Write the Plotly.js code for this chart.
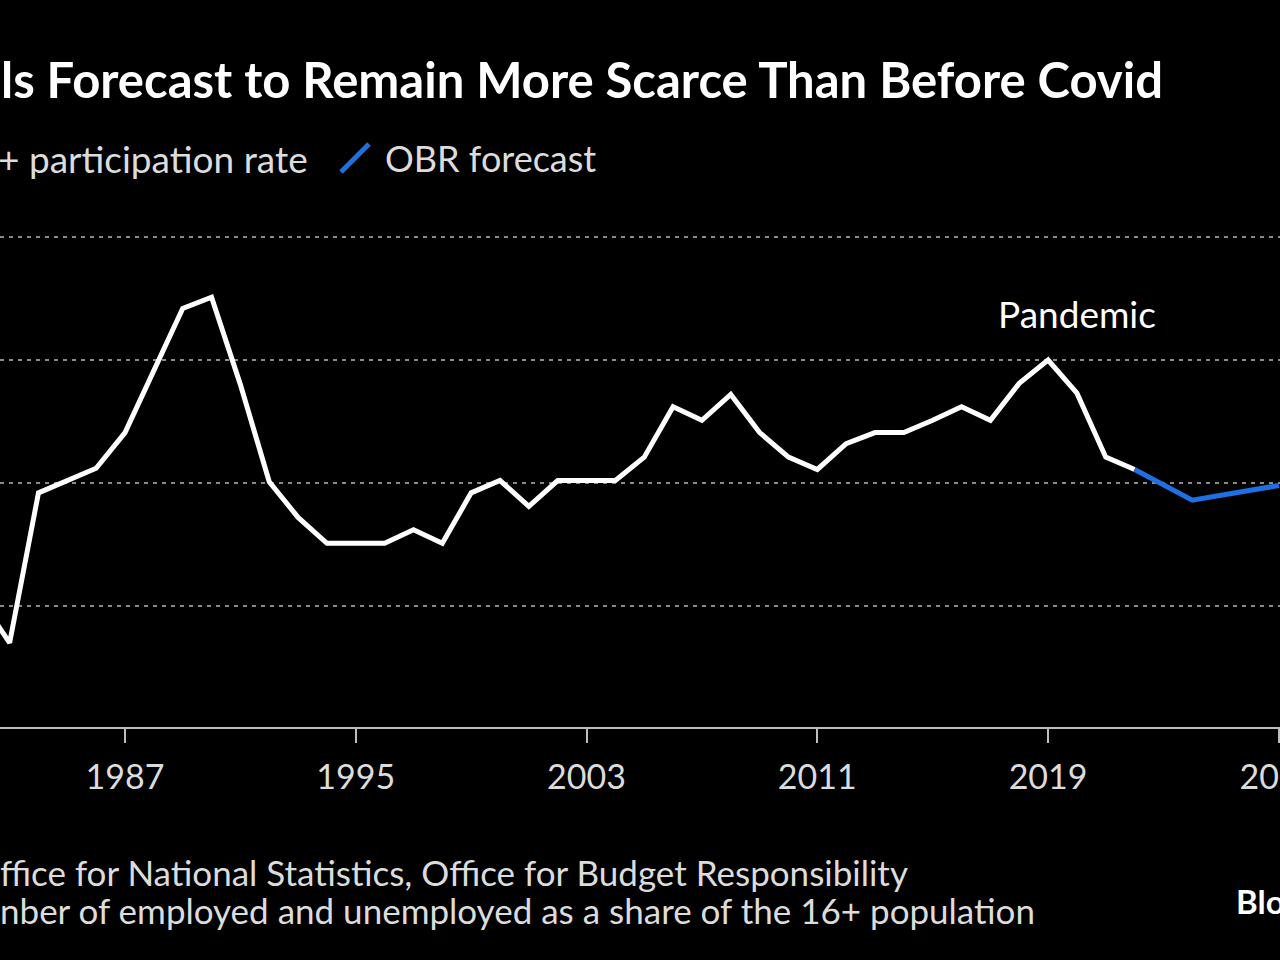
<!DOCTYPE html>
<html>
<head>
<meta charset="utf-8">
<script src="https://cdn.plot.ly/plotly-3.0.1.min.js"></script>
<style>
  html, body { margin: 0; padding: 0; background: #000; overflow: hidden; }
  #chart { width: 1280px; height: 960px; }
</style>
</head>
<body>
<div id="chart"></div>
<script>
// ---- Data ----
const years = [1982, 1983, 1984, 1985, 1986, 1987, 1988, 1989, 1990, 1991,
               1992, 1993, 1994, 1995, 1996, 1997, 1998, 1999, 2000, 2001,
               2002, 2003, 2004, 2005, 2006, 2007, 2008, 2009, 2010, 2011,
               2012, 2013, 2014, 2015, 2016, 2017, 2018, 2019, 2020, 2021, 2022];
const participationRate = [62.05, 61.70, 62.92, 63.02, 63.12, 63.41, 63.92, 64.42, 64.51, 63.80,
                           63.01, 62.72, 62.51, 62.51, 62.51, 62.62, 62.51, 62.92, 63.02, 62.81,
                           63.02, 63.02, 63.02, 63.21, 63.62, 63.51, 63.72, 63.41, 63.21, 63.11,
                           63.32, 63.41, 63.41, 63.51, 63.62, 63.51, 63.81, 64.00, 63.73, 63.21, 63.11];
const forecastYears = [2022, 2023, 2024, 2025, 2026, 2027];
const obrForecast = [63.11, 62.98, 62.86, 62.90, 62.94, 62.98];
const tickYears = [1987, 1995, 2003, 2011, 2019, 2027];
const tickLabels = ['1987', '1995', '2003', '2011', '2019', '2027'];
const gridValues = [62, 63, 64, 65];

// ---- Layout helpers (pixel -> paper) ----
const W = 1280, H = 960, T = 200, B = 233;
const plotH = H - T - B;
const px = x => x / W;
const py = y => (H - B - y) / plotH;

const white = '#ffffff';
const blue = '#1f6fe5';
const grey = '#dcdcdc';
const FONT = 'Lato, "Noto Sans", sans-serif';

const traces = [
  { x: years, y: participationRate, type: 'scatter', mode: 'lines',
    line: { color: white, width: 5 }, name: 'UK 16+ participation rate', hoverinfo: 'skip' },
  { x: forecastYears, y: obrForecast, type: 'scatter', mode: 'lines',
    line: { color: blue, width: 5 }, name: 'OBR forecast', hoverinfo: 'skip' }
];

const layout = {
  width: W, height: H,
  paper_bgcolor: '#000000', plot_bgcolor: '#000000',
  margin: { l: 0, r: 0, t: T, b: B, pad: 0 },
  showlegend: false,
  font: { family: FONT, color: white },
  xaxis: {
    range: [1982.666, 2027.04],
    tickvals: tickYears, ticktext: tickLabels,
    showgrid: false, zeroline: false,
    showline: true, linecolor: '#bdbdbd', linewidth: 2,
    ticks: 'outside', ticklen: 14, tickwidth: 2, tickcolor: '#bdbdbd',
    tickfont: { family: FONT, size: 34, color: grey },
    ticklabelstandoff: 5,
    ticklabeloverflow: 'allow'
  },
  yaxis: {
    range: [61.016, 65.301],
    tickvals: gridValues,
    showticklabels: false,
    showgrid: true, gridcolor: '#8a8a8a', gridwidth: 2, griddash: '4px,5px',
    zeroline: false, showline: false, ticks: ''
  },
  shapes: [
    { type: 'line', xref: 'paper', yref: 'paper',
      x0: px(341), y0: py(172), x1: px(369), y1: py(144),
      line: { color: blue, width: 5 } }
  ],
  annotations: [
    { xref: 'paper', yref: 'paper', x: px(-1), y: py(79), xanchor: 'left', yanchor: 'middle',
      text: '<b>ls Forecast to Remain More Scarce Than Before Covid</b>', showarrow: false,
      font: { family: FONT, size: 49, color: white } },
    { xref: 'paper', yref: 'paper', x: px(-4), y: py(158), xanchor: 'left', yanchor: 'middle',
      text: '+ participation rate', showarrow: false,
      font: { family: FONT, size: 37, color: grey } },
    { xref: 'paper', yref: 'paper', x: px(383), y: py(158), xanchor: 'left', yanchor: 'middle',
      text: 'OBR forecast', showarrow: false,
      font: { family: FONT, size: 36, color: grey } },
    { xref: 'paper', yref: 'paper', x: px(996), y: py(313), xanchor: 'left', yanchor: 'middle',
      text: 'Pandemic', showarrow: false,
      font: { family: FONT, size: 37, color: white } },
    { xref: 'paper', yref: 'paper', x: px(-2), y: py(872), xanchor: 'left', yanchor: 'middle',
      text: 'ffice for National Statistics, Office for Budget Responsibility', showarrow: false,
      font: { family: FONT, size: 35, color: grey } },
    { xref: 'paper', yref: 'paper', x: px(-2), y: py(910), xanchor: 'left', yanchor: 'middle',
      text: 'nber of employed and unemployed as a share of the 16+ population', showarrow: false,
      font: { family: FONT, size: 35, color: grey } },
    { xref: 'paper', yref: 'paper', x: px(1234), y: py(901), xanchor: 'left', yanchor: 'middle',
      text: '<b>Blo</b>', showarrow: false,
      font: { family: FONT, size: 33, color: white } }
  ]
};

Plotly.newPlot('chart', traces, layout, { staticPlot: true, displayModeBar: false });
</script>
</body>
</html>
